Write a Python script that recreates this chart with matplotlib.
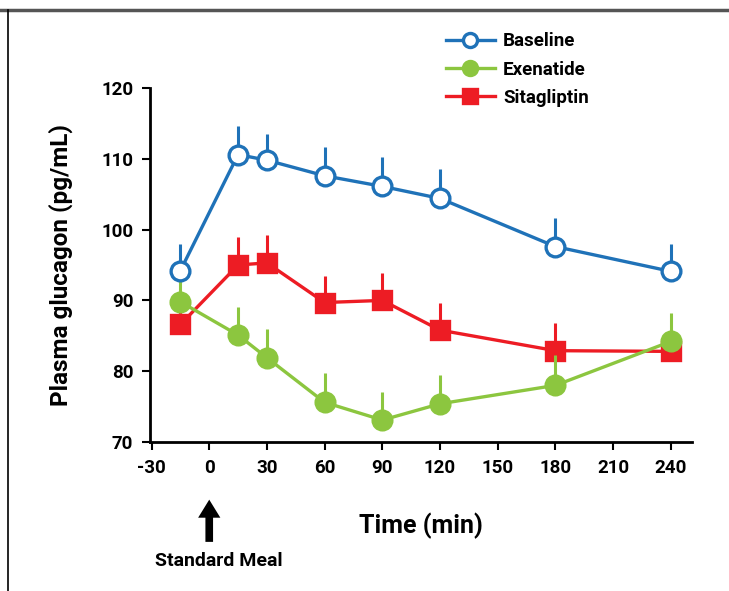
import matplotlib
matplotlib.use("Agg")
from matplotlib import pyplot as plt
from matplotlib.lines import Line2D

plt.rcParams['font.family'] = ['Roboto', 'DejaVu Sans']
plt.rcParams['font.weight'] = 'bold'
plt.rcParams['axes.unicode_minus'] = False

times = [-15, 15, 30, 60, 90, 120, 180, 240]

baseline = [94.2, 110.6, 109.8, 107.6, 106.1, 104.4, 97.6, 94.1]
baseline_err = [3.8, 4.0, 3.7, 4.0, 4.2, 4.2, 4.1, 3.9]

exenatide = [89.8, 85.1, 81.9, 75.6, 73.1, 75.4, 78.0, 84.2]
exenatide_err = [3.5, 4.0, 4.0, 4.1, 3.9, 4.0, 4.3, 4.0]

sitagliptin = [86.6, 95.0, 95.3, 89.7, 90.0, 85.8, 82.9, 82.8]
sitagliptin_err = [2.8, 3.9, 3.9, 3.8, 3.8, 3.9, 3.9, 1.0]

xticks = [-30, 0, 30, 60, 90, 120, 150, 180, 210, 240]
yticks = [70, 80, 90, 100, 110, 120]

blue = "#1f72b8"
green = "#8cc63f"
red = "#ed1c24"

fig = plt.figure(figsize=(7.29, 5.91), dpi=100)
ax = fig.add_axes([150 / 729, 149 / 591, 542 / 729, 354 / 591])

#
# series, drawn bottom to top
#

series = [
    ("Sitagliptin", sitagliptin, sitagliptin_err, red, "s", red, 1),
    ("Exenatide", exenatide, exenatide_err, green, "o", green, 2),
    ("Baseline", baseline, baseline_err, blue, "o", "white", 3),
]

for name, vals, err, col, mk, face, z in series:
    ax.errorbar(times, vals, yerr=[[0] * len(err), err], fmt="none",
                ecolor=col, elinewidth=2.2, capsize=0, zorder=z)
    ax.plot(times, vals, color=col, lw=2.4, marker=mk, ms=13 if mk == "s" else 13.5,
            mfc=face, mec=col, mew=2.4, zorder=z + 0.5, clip_on=False, label=name)

ax.set_xlim(-30.8, 251)
ax.set_ylim(70, 120)
ax.set_xticks(xticks)
ax.set_yticks(yticks)
ax.tick_params(labelsize=13.5, width=1.5, length=6, direction="out", pad=6)
for lab in ax.get_xticklabels() + ax.get_yticklabels():
    lab.set_fontweight("bold")

for s in ("top", "right"):
    ax.spines[s].set_visible(False)
for s in ("left", "bottom"):
    ax.spines[s].set_linewidth(2)

ax.set_xlabel("Time (min)", fontsize=18, fontweight="bold", labelpad=26)
ax.set_ylabel("Plasma glucagon (pg/mL)", fontsize=17.5, fontweight="bold", labelpad=20)

handles, labels = ax.get_legend_handles_labels()
order = [2, 1, 0]
ax.legend([handles[i] for i in order], [labels[i] for i in order],
          loc="upper left", bbox_to_anchor=(0.515, 1.205), frameon=False,
          handlelength=2.6, handletextpad=0.45, labelspacing=0.55, markerscale=0.75,
          prop={"weight": "bold", "size": 13.5})

# meal arrow
ax.annotate("", xy=(0, -0.155), xycoords=("data", "axes fraction"),
            xytext=(0, -0.29), textcoords=("data", "axes fraction"),
            arrowprops=dict(arrowstyle="simple,head_width=1.6,head_length=1.3,tail_width=0.55",
                            color="black", lw=0))
ax.text(5, -0.31, "Standard Meal", transform=ax.get_xaxis_transform(),
        ha="center", va="top", fontsize=14, fontweight="bold")

# figure frame
fig.add_artist(Line2D([0, 1], [1 - 10 / 591, 1 - 10 / 591], color="#555555", lw=2.5,
                      transform=fig.transFigure))
fig.add_artist(Line2D([8 / 729, 8 / 729], [0, 1 - 10 / 591], color="black", lw=1.2,
                      transform=fig.transFigure))

fig.savefig("out.png", dpi=100)
